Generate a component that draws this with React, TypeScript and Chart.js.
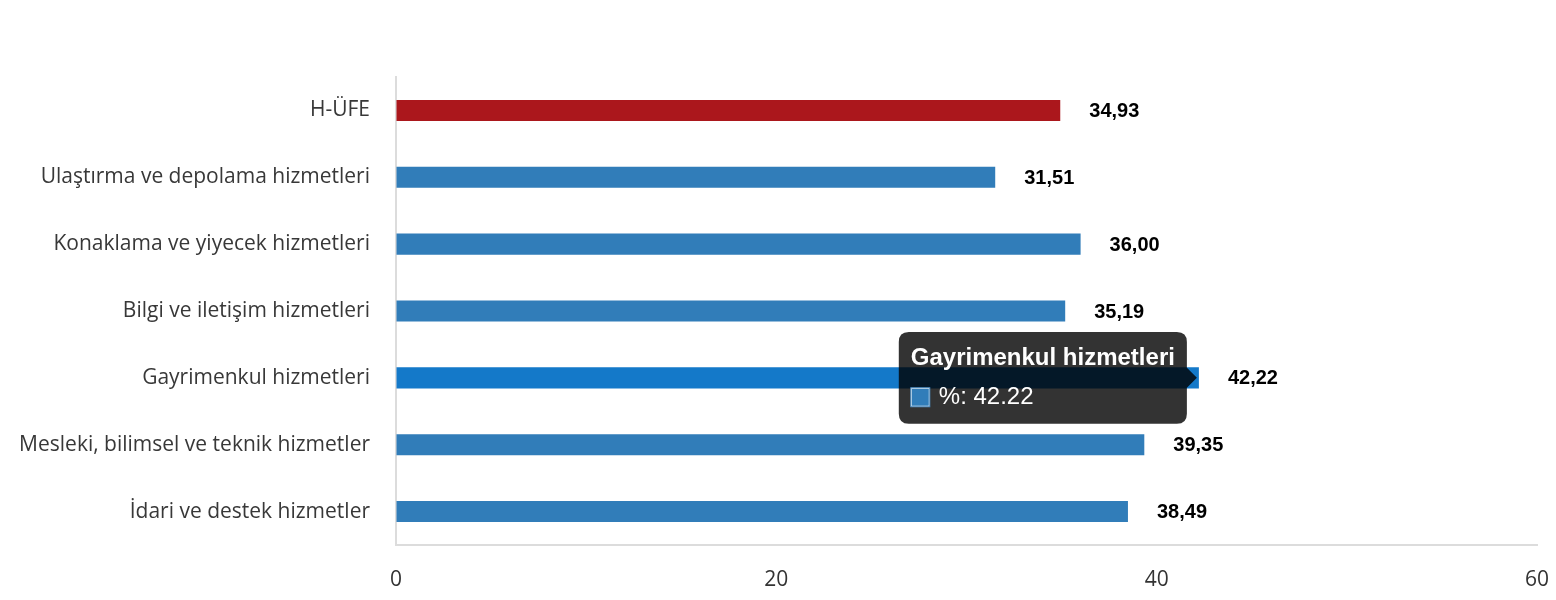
import { useEffect, useRef } from "react";
import { Chart, registerables } from "chart.js";

Chart.register(...registerables);

const categories = [
  "H-ÜFE",
  "Ulaştırma ve depolama hizmetleri",
  "Konaklama ve yiyecek hizmetleri",
  "Bilgi ve iletişim hizmetleri",
  "Gayrimenkul hizmetleri",
  "Mesleki, bilimsel ve teknik hizmetler",
  "İdari ve destek hizmetler",
];
const values = [34.93, 31.51, 36.0, 35.19, 42.22, 39.35, 38.49];
const barColors = ["#ab171c", "#317db9", "#317db9", "#317db9", "#317db9", "#317db9", "#317db9"];
const hoverColors = ["#c41a20", "#1479c9", "#1479c9", "#1479c9", "#1479c9", "#1479c9", "#1479c9"];
const activeIndex = 4;

// etiketler: çubuk sonunun sağına kalın yazı
const valueLabels = {
  id: "valueLabels",
  afterDatasetsDraw(chart: any) {
    const ctx = chart.ctx;
    const meta = chart.getDatasetMeta(0);
    ctx.save();
    ctx.font = "bold 20px 'Liberation Sans', Arial, sans-serif";
    ctx.fillStyle = "#000";
    ctx.textAlign = "left";
    ctx.textBaseline = "middle";
    meta.data.forEach((bar: any, i: number) => {
      ctx.fillText(values[i].toFixed(2).replace(".", ","), bar.x + 29, bar.y + 1);
    });
    ctx.restore();
  },
};

export default function App() {
  const canvasRef = useRef<HTMLCanvasElement>(null);
  const chartRef = useRef<Chart | null>(null);

  useEffect(() => {
    document.body.style.margin = "0";
    if (!canvasRef.current) return;
    const ctx = canvasRef.current.getContext("2d");
    if (!ctx) return;

    chartRef.current?.destroy();
    const chart = new Chart(ctx, {
      type: "bar",
      data: {
        labels: categories,
        datasets: [
          {
            label: "%",
            data: values,
            backgroundColor: barColors,
            hoverBackgroundColor: hoverColors,
            barPercentage: 0.63,
            categoryPercentage: 0.5,
          },
        ],
      },
      options: {
        indexAxis: "y",
        responsive: true,
        maintainAspectRatio: false,
        animation: false,
        layout: { padding: { top: 77, right: 19, left: 0, bottom: 0 } },
        plugins: {
          legend: { display: false },
          tooltip: {
            enabled: true,
            xAlign: "right",
            yAlign: "center",
            backgroundColor: "rgba(0,0,0,0.8)",
            titleFont: { family: "'Liberation Sans', Arial, sans-serif", size: 24, weight: "bold" },
            bodyFont: { family: "'Liberation Sans', Arial, sans-serif", size: 24 },
            titleColor: "#fff",
            bodyColor: "#fff",
            padding: 12,
            titleMarginBottom: 10,
            cornerRadius: 10,
            caretSize: 10,
            caretPadding: 2,
            boxWidth: 19,
            boxHeight: 19,
            boxPadding: 7,
            callbacks: {
              label: (c: any) => `%: ${c.parsed.x}`,
              labelColor: () => ({ borderColor: "#4a8cc4", backgroundColor: "#317db9" }),
            },
          },
        },
        scales: {
          x: {
            min: 0,
            max: 60,
            ticks: {
              stepSize: 20,
              color: "#333",
              padding: 22,
              font: { family: "'Open Sans', sans-serif", size: 21 },
            },
            grid: { drawOnChartArea: false, drawTicks: false },
            border: { display: true, color: "#dcdcdc", width: 2 },
            afterFit: (s: any) => {
              s.height = 55;
              s.paddingLeft = 0;
              s.paddingRight = 0;
            },
          },
          y: {
            ticks: {
              color: "#383838",
              padding: 26,
              font: { family: "'Open Sans', sans-serif", size: 21 },
            },
            grid: { drawOnChartArea: false, drawTicks: false },
            border: { display: true, color: "#dcdcdc", width: 2 },
            afterFit: (s: any) => {
              s.width = 396;
            },
          },
        },
      },
      plugins: [valueLabels],
    });
    chartRef.current = chart;

    const active = [{ datasetIndex: 0, index: activeIndex }];
    const bar: any = chart.getDatasetMeta(0).data[activeIndex];
    chart.setActiveElements(active);
    chart.tooltip?.setActiveElements(active, { x: bar.x, y: bar.y });
    chart.update();

    return () => {
      chart.destroy();
      chartRef.current = null;
    };
  }, []);

  return (
    <div style={{ width: 1556, height: 600, position: "relative" }}>
      <canvas ref={canvasRef} />
    </div>
  );
}
